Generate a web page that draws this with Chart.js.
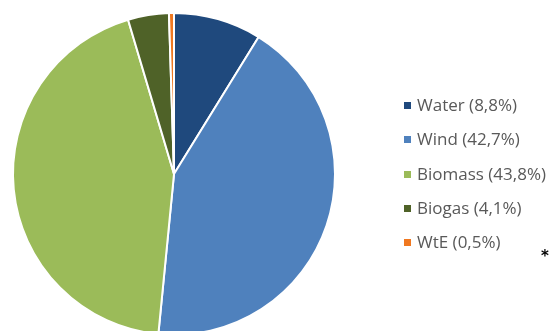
<!DOCTYPE html>
<html><head><meta charset="utf-8">
<script src="https://cdn.jsdelivr.net/npm/chart.js@4/dist/chart.umd.min.js"></script>
<style>
html,body{margin:0;padding:0;background:#fff;overflow:hidden;width:558px;height:331px;}
#wrap{position:relative;width:558px;height:331px;overflow:hidden;}
canvas{position:absolute;left:0;top:0;}
#legend{position:absolute;left:404px;top:93px;font-family:"Open Sans",Lato,sans-serif;font-size:17px;color:#595959;}
.item{height:34.3px;line-height:24px;white-space:nowrap;}
.sw{display:inline-block;width:7px;height:7px;margin-right:6px;vertical-align:2px;}
#star{position:absolute;left:541px;top:249px;font-family:"DejaVu Sans",sans-serif;font-weight:bold;font-size:15px;line-height:15px;color:#000;}
</style></head>
<body><div id="wrap"><canvas id="c" width="558" height="350"></canvas><div id="legend"></div><div id="star">*</div></div>
<script>
const categories = ["Water", "Wind", "Biomass", "Biogas", "WtE"];
const shares = [8.8, 42.7, 43.8, 4.1, 0.5];
const shareLabels = ["8,8%", "42,7%", "43,8%", "4,1%", "0,5%"];
const colors = ["#1F497D", "#4F81BD", "#9BBB59", "#4F6228", "#F07820"];

const legendEl = document.getElementById('legend');
categories.forEach((c, i) => {
  const d = document.createElement('div');
  d.className = 'item';
  d.innerHTML = '<span class="sw" style="background:' + colors[i] + '"></span>' + c + ' (' + shareLabels[i] + ')';
  legendEl.appendChild(d);
});

new Chart(document.getElementById('c'), {
  type: 'pie',
  data: {
    labels: categories,
    datasets: [{ data: shares, backgroundColor: colors, borderColor: '#ffffff', borderWidth: 2 }]
  },
  options: {
    responsive: false,
    animation: false,
    layout: { padding: { left: 12, top: 12, right: 222, bottom: 14 } },
    plugins: { legend: { display: false }, tooltip: { enabled: false } }
  }
});
</script></body></html>
